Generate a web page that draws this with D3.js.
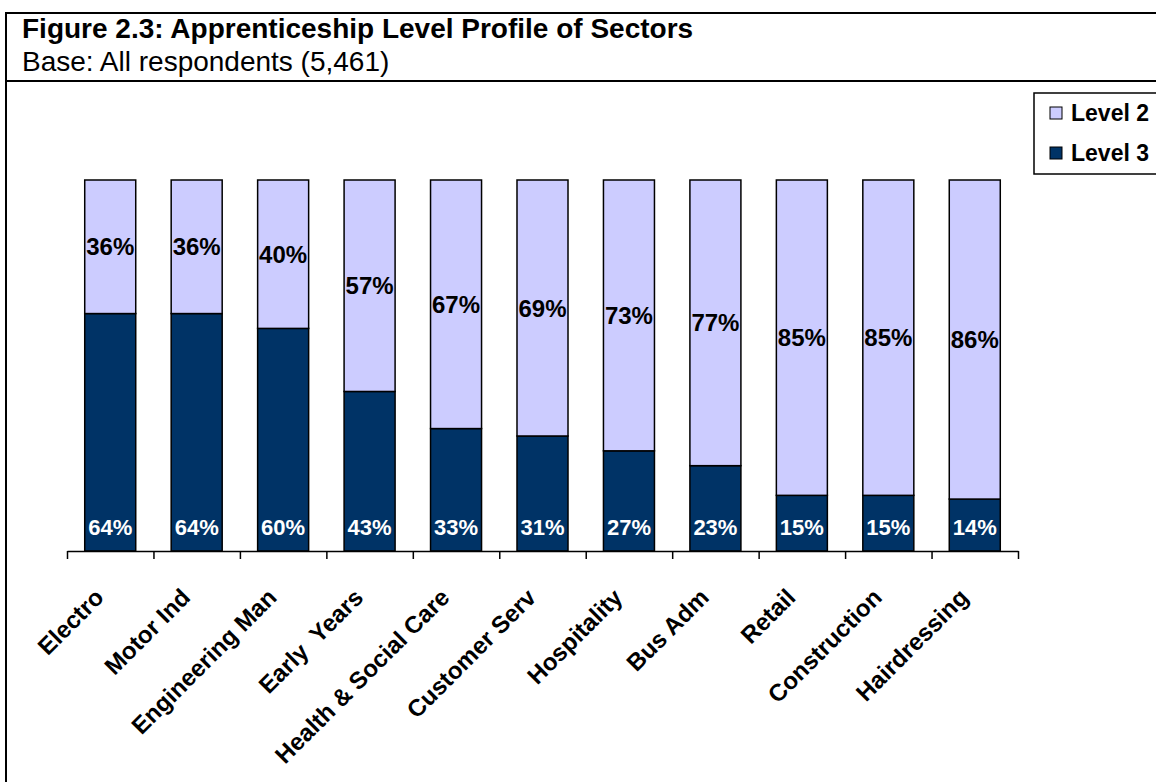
<!DOCTYPE html>
<html>
<head>
<meta charset="utf-8">
<script src="https://cdn.jsdelivr.net/npm/d3@7"></script>
<style>
  html, body { margin: 0; padding: 0; background: #fff; }
  svg { display: block; font-family: "Liberation Sans", Arial, sans-serif; }
</style>
</head>
<body>
<svg id="chart" width="1156" height="782"></svg>
<script>
const titleText = "Figure 2.3: Apprenticeship Level Profile of Sectors";
const subtitleText = "Base: All respondents (5,461)";
const categories = ["Electro", "Motor Ind", "Engineering Man", "Early  Years", "Health & Social Care",
  "Customer Serv", "Hospitality", "Bus Adm", "Retail", "Construction", "Hairdressing"];
const seriesNames = ["Level 3", "Level 2"];
const level3 = [64, 64, 60, 43, 33, 31, 27, 23, 15, 15, 14];
const level2 = [36, 36, 40, 57, 67, 69, 73, 77, 85, 85, 86];
const colors = {"Level 2": "#CCCCFF", "Level 3": "#003366"};
const labelColors = {"Level 2": "#000000", "Level 3": "#ffffff"};

const svg = d3.select("#chart");

// Frame
svg.append("rect").attr("x", 6).attr("y", 13).attr("width", 1300).attr("height", 900)
  .attr("fill", "none").attr("stroke", "#000").attr("stroke-width", 2);
svg.append("line").attr("x1", 6).attr("x2", 1156).attr("y1", 81).attr("y2", 81)
  .attr("stroke", "#000").attr("stroke-width", 2);

svg.append("text").attr("x", 22).attr("y", 38).attr("font-size", 28).attr("font-weight", "bold")
  .text(titleText);
svg.append("text").attr("x", 22).attr("y", 71).attr("font-size", 28)
  .text(subtitleText);

const x0 = 67, x1 = 1018, yBase = 551, yTop = 180;
const x = d3.scaleBand().domain(categories).range([x0, x1]).paddingInner(0.41).paddingOuter(0.205);
const y = d3.scaleLinear().domain([0, 100]).range([yBase, yTop]);
const tickScale = d3.scaleLinear().domain([0, categories.length]).range([x0, x1]);

const table = categories.map((c, i) => ({cat: c, "Level 3": level3[i], "Level 2": level2[i]}));
const stacked = d3.stack().keys(seriesNames)(table);

const g = svg.append("g");
stacked.forEach(layer => {
  g.selectAll(null).data(layer).enter().append("rect")
    .attr("x", d => x(d.data.cat))
    .attr("y", d => y(d[1]))
    .attr("width", x.bandwidth())
    .attr("height", d => y(d[0]) - y(d[1]))
    .attr("fill", colors[layer.key])
    .attr("stroke", "#000").attr("stroke-width", 1.5);
});

// value labels
stacked.forEach(layer => {
  const isL3 = layer.key === "Level 3";
  g.selectAll(null).data(layer).enter().append("text")
    .attr("x", d => x(d.data.cat) + x.bandwidth() / 2)
    .attr("y", d => isL3 ? yBase - 24 : (y(d[0]) + y(d[1])) / 2)
    .attr("dy", "0.36em")
    .attr("text-anchor", "middle")
    .attr("font-size", isL3 ? 22 : 24).attr("font-weight", "bold")
    .attr("fill", labelColors[layer.key])
    .text(d => (d[1] - d[0]) + "%");
});

// axis line and ticks
const axis = d3.axisBottom(tickScale).tickValues(d3.range(0, categories.length + 1))
  .tickSize(8).tickSizeOuter(0).tickFormat("");
const ag = svg.append("g").attr("transform", `translate(0,${yBase})`).call(axis);
ag.select(".domain").attr("stroke", "#000").attr("stroke-width", 1.5);
ag.selectAll(".tick line").attr("stroke", "#000").attr("stroke-width", 1.5);

// category labels
svg.append("g").selectAll("text").data(categories).enter().append("text")
  .attr("transform", d => `translate(${x(d) + x.bandwidth() / 2 - 5},${yBase + 48}) rotate(-45)`)
  .attr("text-anchor", "end")
  .attr("font-size", 24).attr("font-weight", "bold")
  .style("white-space", "pre")
  .text(d => d);

// legend
const lg = svg.append("g");
lg.append("rect").attr("x", 1034).attr("y", 93).attr("width", 200).attr("height", 81)
  .attr("fill", "#fff").attr("stroke", "#000").attr("stroke-width", 1.5);
["Level 2", "Level 3"].forEach((k, i) => {
  const yy = 113 + i * 40;
  lg.append("rect").attr("x", 1050).attr("y", yy - 6).attr("width", 12).attr("height", 12)
    .attr("fill", colors[k]).attr("stroke", "#000").attr("stroke-width", 1);
  lg.append("text").attr("x", 1071).attr("y", yy).attr("dy", "0.36em")
    .attr("font-size", 23).attr("font-weight", "bold").text(k);
});
</script>
</body>
</html>
